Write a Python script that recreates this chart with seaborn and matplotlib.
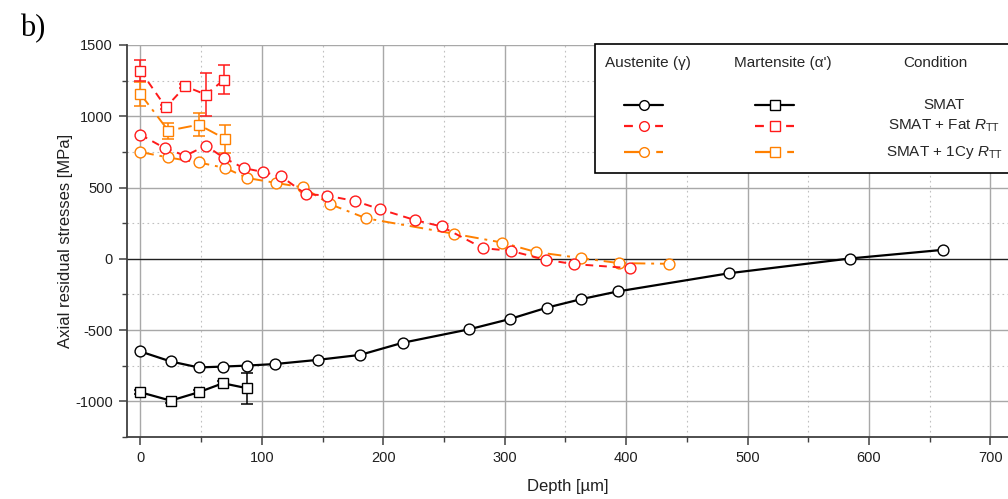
import matplotlib
matplotlib.use("Agg")
import matplotlib.pyplot as plt
import seaborn as sns
import pandas as pd
import numpy as np
from matplotlib.ticker import MultipleLocator
from matplotlib.lines import Line2D
from matplotlib.patches import Rectangle

# ---------------- data ----------------
aus_smat_d = [0, 25, 48, 68, 88, 111, 146, 181, 216, 271, 304, 335, 363, 393, 485, 584, 661]
aus_smat_s = [-650, -720, -762, -756, -749, -738, -709, -674, -589, -494, -423, -342, -283, -229, -101, 2, 63]

mart_smat_d = [0, 25, 48, 68, 88]
mart_smat_s = [-936, -995, -936, -873, -908]
mart_smat_e = [15, 15, 15, 15, 110]

aus_fat_d = [0, 20, 37, 54, 69, 85, 101, 116, 136, 154, 177, 197, 226, 248, 282, 305, 334, 357, 403]
aus_fat_s = [871, 777, 723, 794, 707, 637, 609, 578, 455, 443, 405, 349, 272, 227, 75, 56, -7, -37, -65]

mart_fat_d = [0, 21, 37, 54, 69]
mart_fat_s = [1320, 1063, 1210, 1152, 1257]
mart_fat_e = [75, 15, 15, 150, 100]

aus_cy_d = [0, 23, 48, 70, 88, 112, 134, 156, 186, 258, 298, 326, 363, 394, 435]
aus_cy_s = [749, 711, 676, 637, 567, 532, 501, 384, 284, 176, 114, 47, 5, -30, -35]

mart_cy_d = [0, 23, 48, 70]
mart_cy_s = [1157, 899, 941, 841]
mart_cy_e = [85, 55, 80, 100]

conditions = ["SMAT", "SMAT + Fat $R_{\\mathrm{TT}}$", "SMAT + 1Cy $R_{\\mathrm{TT}}$"]
x_ticks = [0, 100, 200, 300, 400, 500, 600, 700]
y_ticks = [-1000, -500, 0, 500, 1000, 1500]

# ---------------- style ----------------
sns.set_style("white")
plt.rcParams["font.family"] = ["Liberation Sans", "DejaVu Sans"]
plt.rcParams["mathtext.fontset"] = "custom"
plt.rcParams["mathtext.rm"] = "Liberation Sans"
plt.rcParams["mathtext.it"] = "Liberation Sans:italic"
plt.rcParams["axes.unicode_minus"] = False

BLACK = "#000000"
RED = "#ff1a1a"
ORANGE = "#ff8000"
red_ls = (0, (4, 3))
orange_ls = (0, (7, 3, 1.5, 3))

W, H = 1008, 499
fig = plt.figure(figsize=(W / 100, H / 100), dpi=100)
ax_l, ax_r, ax_t, ax_b = 127, 1008, 45, 437
ax = fig.add_axes([ax_l / W, 1 - ax_b / H, (ax_r - ax_l) / W, (ax_b - ax_t) / H])

def series(d, s, color, ls, marker, lw=1.4, err=None, z=3):
    df = pd.DataFrame({"d": d, "s": s})
    if err is not None:
        ax.errorbar(d, s, yerr=err, fmt="none", ecolor=color, elinewidth=1.1,
                    capsize=4, capthick=1.1, zorder=z - 0.5)
    sns.lineplot(data=df, x="d", y="s", ax=ax, color=color, sort=False, estimator=None,
                 linestyle=ls, lw=lw, marker=marker, markersize=7.8,
                 markerfacecolor="white", markeredgecolor=color, markeredgewidth=1.0,
                 zorder=z, legend=False)

series(aus_smat_d, aus_smat_s, BLACK, "-", "o", lw=1.6)
series(mart_smat_d, mart_smat_s, BLACK, "-", "s", lw=1.6, err=mart_smat_e)
series(aus_cy_d, aus_cy_s, ORANGE, orange_ls, "o")
series(mart_cy_d, mart_cy_s, ORANGE, orange_ls, "s", err=mart_cy_e)
series(aus_fat_d, aus_fat_s, RED, red_ls, "o", z=4)
series(mart_fat_d, mart_fat_s, RED, red_ls, "s", err=mart_fat_e, z=4)

ax.set_xlim(-11, 714.5)
ax.set_ylim(-1250, 1500)
ax.set_xticks(x_ticks)
ax.set_yticks(y_ticks)
ax.xaxis.set_minor_locator(MultipleLocator(50))
ax.yaxis.set_minor_locator(MultipleLocator(250))
ax.grid(which="major", color="#a8a8a8", lw=1.0, ls="-", zorder=0)
ax.grid(which="minor", color="#c0c0c0", lw=0.8, ls=(0, (1.5, 3)), zorder=0)
ax.set_axisbelow(True)
ax.axhline(0, color="#202020", lw=0.9, zorder=1)

for sp in ["top", "right"]:
    ax.spines[sp].set_visible(False)
for sp in ["left", "bottom"]:
    ax.spines[sp].set_color("#404040")
    ax.spines[sp].set_linewidth(1.3)
ax.tick_params(which="major", direction="out", length=6, width=1.1, color="#404040",
               labelsize=10.5, labelcolor="#202020", pad=4, left=True, bottom=True)
ax.tick_params(which="minor", direction="out", length=3.5, width=1.0, color="#404040",
               left=True, bottom=True)

ax.set_xlabel("Depth [µm]", fontsize=12, color="#202020", labelpad=10)
ax.set_ylabel("Axial residual stresses [MPa]", fontsize=12, color="#202020", labelpad=2)

fig.text(20 / W, 1 - 29 / H, "b)", family="Liberation Serif", fontsize=22,
         va="center", ha="left", color="black")

# ---------------- legend (drawn as a table) ----------------
def fx(px):
    return px / W

def fy(py):
    return 1 - py / H

fig.patches.append(Rectangle((fx(595), fy(173)), fx(1010) - fx(595), fy(44) - fy(173),
                             transform=fig.transFigure, facecolor="white",
                             edgecolor="black", lw=1.2, zorder=10))
hdr_y = 63
fig.text(fx(648), fy(hdr_y), "Austenite (γ)", ha="center", va="center", fontsize=11, zorder=11)
fig.text(fx(783), fy(hdr_y), "Martensite (α')", ha="center", va="center", fontsize=11, zorder=11)
fig.text(fx(935), fy(hdr_y), "Condition", ha="center", va="center", fontsize=11, zorder=11)

row_y = [105, 126, 152]
styles = [(BLACK, "-"), (RED, red_ls), (ORANGE, orange_ls)]
for (col, ls), ry, lab in zip(styles, row_y, conditions):
    for (x0, x1, mk) in [(624, 663, "o"), (755, 794, "s")]:
        ln = Line2D([fx(x0), fx(x1)], [fy(ry), fy(ry)], transform=fig.transFigure,
                    color=col, ls=ls, lw=1.6, zorder=11)
        fig.lines.append(ln)
        m = Line2D([fx((x0 + x1) / 2)], [fy(ry)], transform=fig.transFigure, ls="none",
                   marker=mk, markersize=7, markerfacecolor="white",
                   markeredgecolor=col, markeredgewidth=1.0, zorder=12)
        fig.lines.append(m)
    fig.text(fx(944), fy(ry), lab, ha="center", va="center", fontsize=11, zorder=11)

fig.savefig("out.png", dpi=100)
